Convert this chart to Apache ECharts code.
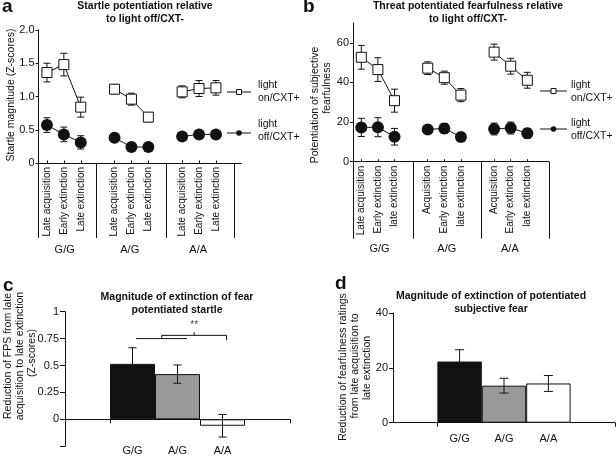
<!DOCTYPE html>
<html><head><meta charset="utf-8">
<script src="https://cdn.jsdelivr.net/npm/echarts@6/dist/echarts.min.js"></script>
<style>html,body{margin:0;padding:0;background:#fff}#c{width:616px;height:456px}</style>
</head><body><div id="c"></div>
<script>
const FONT = 'Liberation Sans, Arial, Helvetica, sans-serif';
const groups = ['G/G', 'A/G', 'A/A'];
const phasesA = ['Late acquisition','Early extinction','Late extinction','Late acquisition','Early extinction','Late extinction','Late acquisition','Early extinction','Late extinction'];
const phasesB = ['Late acquisition','Early extinction','late extinction','Acquisition','Early extinction','late extinction','Acquisition','Early extinction','late extinction'];
const xPos = [0.5, 1.5, 2.5, 4.5, 5.5, 6.5, 8.5, 9.5, 10.5];
const groupPosA = [1.55, 5.4, 9.45];
const groupPosB = [1.6, 5.65, 9.45];
const sepA = [0, 3.4, 7.55, 11.6];
const sepB = [0, 3.6, 7.75, 11.8];

// Panel a: startle potentiation (Z-scores)
const aOn = [1.36, 1.48, 0.84, 1.11, 0.96, 0.69, 1.07, 1.12, 1.13];
const aOnErr = [0.14, 0.17, 0.15, 0.07, 0.09, 0.07, 0.09, 0.12, 0.11];
const aOff = [0.57, 0.43, 0.31, 0.38, 0.24, 0.24, 0.40, 0.43, 0.43];
const aOffErr = [0.11, 0.11, 0.10, 0.03, 0.02, 0.02, 0.06, 0.05, 0.04];
// Panel b: potentiation of subjective fearfulness
const bOn = [52.7, 46.5, 30.8, 47.2, 42.4, 33.6, 55.3, 48.2, 41.1];
const bOnErr = [6.0, 6.0, 5.8, 3.2, 3.3, 3.3, 4.0, 4.0, 4.0];
const bOff = [17.3, 17.4, 12.6, 16.3, 16.8, 12.5, 16.5, 17.0, 14.3];
const bOffErr = [4.6, 4.8, 4.2, 2.0, 2.5, 1.0, 3.0, 3.0, 2.5];
// Panel c / d
const barPos = [1.5, 2.5, 3.5];
const barColors = ['#111111', '#999999', '#ffffff'];
const cVals = [0.515, 0.42, -0.06];
const cErr = [0.15, 0.085, 0.105];
const dVals = [22.3, 13.5, 14.3];
const dErr = [4.3, 2.7, 2.9];
// significance bracket in c (data units)
const brLow = [[1.58, 0.75], [2.71, 0.75]];
const brHigh = [[2.15, 0.75], [2.15, 0.78], [3.59, 0.78], [3.59, 0.735]];
const brTick = [[2.87, 0.78], [2.87, 0.81]];
const brStar = [2.87, 0.81];

const BLACK = '#111';
function lab(list, pos) {
  return function (v) {
    const i = pos.findIndex(p => Math.abs(p - v) < 1e-6);
    return i >= 0 ? list[i] : '';
  };
}
function breakData(vals) {
  const out = [];
  vals.forEach((v, i) => {
    if (i > 0 && i % 3 === 0) out.push([xPos[i] - 1, '-']);
    out.push([xPos[i], v]);
  });
  return out;
}
function lineSer(ai, vals, open) {
  return {
    type: 'line', xAxisIndex: ai === 0 ? 0 : 2, yAxisIndex: ai, z: 3, silent: true,
    data: breakData(vals), connectNulls: false,
    symbol: open ? 'rect' : 'circle', symbolSize: open ? 10 : 12, showSymbol: true,
    lineStyle: { color: BLACK, width: 1 },
    itemStyle: open ? { color: '#fff', borderColor: BLACK, borderWidth: 1 } : { color: BLACK, borderWidth: 0 },
    emphasis: { disabled: true }
  };
}
function errBar(xi, yi, xs, vals, errs, cap, z) {
  return {
    type: 'custom', xAxisIndex: xi, yAxisIndex: yi, z: z, silent: true,
    encode: { x: 0, y: [1, 2] },
    data: vals.map((v, i) => [xs[i], v - errs[i], v + errs[i]]),
    renderItem: function (params, api) {
      const x = api.value(0);
      const lo = api.coord([x, api.value(1)]);
      const hi = api.coord([x, api.value(2)]);
      const h = cap / 2;
      const st = { stroke: BLACK, lineWidth: 1 };
      return { type: 'group', children: [
        { type: 'line', shape: { x1: lo[0], y1: lo[1], x2: hi[0], y2: hi[1] }, style: st },
        { type: 'line', shape: { x1: lo[0] - h, y1: lo[1], x2: lo[0] + h, y2: lo[1] }, style: st },
        { type: 'line', shape: { x1: hi[0] - h, y1: hi[1], x2: hi[0] + h, y2: hi[1] }, style: st }
      ] };
    }
  };
}
const axLine = { show: true, onZero: true, lineStyle: { color: BLACK, width: 1 } };
const lblStyle = { color: BLACK, fontFamily: FONT, fontSize: 10.5 };

function txt(x, y, s, o) {
  return Object.assign({ type: 'text', x: x, y: y, style: Object.assign({ text: s, fill: BLACK, font: '10.5px ' + FONT, align: 'center', verticalAlign: 'middle' }, o || {}) });
}
function rot(x, y, s) {
  const t = txt(x, y, s); t.rotation = Math.PI / 2; return t;
}
function legend(x1, x2, y, open, tx, ty) {
  const mx = (x1 + x2) / 2;
  return [
    { type: 'line', shape: { x1: x1, y1: y, x2: x2, y2: y }, style: { stroke: BLACK, lineWidth: 1 } },
    open ? { type: 'rect', shape: { x: mx - 2.5, y: y - 2.5, width: 5, height: 5 }, style: { fill: '#fff', stroke: BLACK, lineWidth: 1 } }
         : { type: 'circle', shape: { cx: mx, cy: y, r: 2.8 }, style: { fill: BLACK } },
    txt(tx, ty, open ? 'light\non/CXT+' : 'light\noff/CXT+', { align: 'left', lineHeight: 13 })
  ];
}
const bold = { font: 'bold 10.5px ' + FONT, lineHeight: 13 };
const letter = { font: 'bold 19px ' + FONT, align: 'left' };

const option = {
  animation: false,
  textStyle: { fontFamily: FONT },
  grid: [
    { left: 38.5, top: 30, width: 202.8, height: 133, outerBoundsMode: 'none' },
    { left: 353, top: 23, width: 195.9, height: 138.7, outerBoundsMode: 'none' },
    { left: 65, top: 311.7, width: 225, height: 134.5, outerBoundsMode: 'none' },
    { left: 393, top: 313, width: 222, height: 109.7, outerBoundsMode: 'none' }
  ],
  xAxis: [
    // a: labels + small inner ticks
    { gridIndex: 0, type: 'value', min: 0, max: 12, axisLine: axLine, splitLine: { show: false },
      axisTick: { show: true, inside: true, length: 2.5, customValues: xPos, lineStyle: { color: BLACK } },
      axisLabel: { customValues: xPos, formatter: lab(phasesA, xPos), rotate: 90, margin: 4, fontSize: 10, color: BLACK, fontFamily: FONT } },
    // a: separators + group labels
    { gridIndex: 0, type: 'value', min: 0, max: 12, position: 'bottom', axisLine: { show: false }, splitLine: { show: false },
      axisTick: { show: true, inside: false, length: 75, customValues: sepA, lineStyle: { color: BLACK } },
      axisLabel: Object.assign({}, lblStyle, { fontSize: 11, customValues: groupPosA, formatter: lab(groups, groupPosA), margin: 81 }) },
    // b
    { gridIndex: 1, type: 'value', min: 0, max: 11.8, axisLine: axLine, splitLine: { show: false },
      axisTick: { show: true, inside: true, length: 2.5, customValues: xPos, lineStyle: { color: BLACK } },
      axisLabel: { customValues: xPos, formatter: lab(phasesB, xPos), rotate: 90, margin: 4, fontSize: 10, color: BLACK, fontFamily: FONT } },
    { gridIndex: 1, type: 'value', min: 0, max: 11.8, position: 'bottom', axisLine: { show: false }, splitLine: { show: false },
      axisTick: { show: true, inside: false, length: 77, customValues: sepB, lineStyle: { color: BLACK } },
      axisLabel: Object.assign({}, lblStyle, { fontSize: 11, customValues: groupPosB, formatter: lab(groups, groupPosB), margin: 82 }) },
    // c: axis line at zero with ticks
    { gridIndex: 2, type: 'value', min: 0, max: 5, axisLine: axLine, splitLine: { show: false },
      axisTick: { show: true, inside: false, length: 4, customValues: [1, 5], lineStyle: { color: BLACK } },
      axisLabel: { show: false } },
    // d
    { gridIndex: 3, type: 'value', min: 0, max: 5, axisLine: axLine, splitLine: { show: false },
      axisTick: { show: true, inside: false, length: 4, customValues: [1, 5], lineStyle: { color: BLACK } },
      axisLabel: Object.assign({}, lblStyle, { fontSize: 11, customValues: barPos, formatter: lab(groups, barPos), margin: 11 }) },
    // c: category labels at bottom of plot
    { gridIndex: 2, type: 'value', min: 0, max: 5, position: 'bottom', axisLine: { show: false, onZero: false }, splitLine: { show: false },
      axisTick: { show: false },
      axisLabel: Object.assign({}, lblStyle, { fontSize: 11, customValues: barPos, formatter: lab(groups, barPos), margin: -1 }) }
  ],
  yAxis: [
    { gridIndex: 0, type: 'value', min: 0, max: 2, interval: 0.5, axisLine: axLine, splitLine: { show: false },
      axisTick: { show: true, length: 3, lineStyle: { color: BLACK } },
      axisLabel: Object.assign({}, lblStyle, { fontSize: 11, margin: 4, formatter: v => v === 0 ? '0' : v.toFixed(1) }) },
    { gridIndex: 1, type: 'value', min: 0, max: 70, axisLine: axLine, splitLine: { show: false },
      axisTick: { show: true, length: 3, customValues: [0, 20, 40, 60], lineStyle: { color: BLACK } },
      axisLabel: Object.assign({}, lblStyle, { fontSize: 11, margin: 4, customValues: [0, 20, 40, 60] }) },
    { gridIndex: 2, type: 'value', min: -0.25, max: 1, axisLine: axLine, splitLine: { show: false },
      axisTick: { show: true, length: 5, customValues: [-0.25, 0, 0.25, 0.5, 0.75, 1], lineStyle: { color: BLACK } },
      axisLabel: Object.assign({}, lblStyle, { fontSize: 11, margin: 6, customValues: [0, 0.25, 0.5, 0.75, 1] }) },
    { gridIndex: 3, type: 'value', min: 0, max: 40, interval: 20, axisLine: axLine, splitLine: { show: false },
      axisTick: { show: true, length: 4, lineStyle: { color: BLACK } },
      axisLabel: Object.assign({}, lblStyle, { fontSize: 11, margin: 5 }) }
  ],
  series: [
    errBar(0, 0, xPos, aOn, aOnErr, 7, 1),
    errBar(0, 0, xPos, aOff, aOffErr, 7, 1),
    lineSer(0, aOn, true),
    lineSer(0, aOff, false),
    errBar(2, 1, xPos, bOn, bOnErr, 7, 1),
    errBar(2, 1, xPos, bOff, bOffErr, 7, 1),
    lineSer(1, bOn, true),
    lineSer(1, bOff, false),
    { type: 'bar', xAxisIndex: 4, yAxisIndex: 2, barWidth: 45, silent: true, z: 2,
      itemStyle: { borderColor: BLACK, borderWidth: 1 },
      data: cVals.map((v, i) => ({ value: [barPos[i], v], itemStyle: { color: barColors[i], borderColor: BLACK, borderWidth: 1 } })) },
    errBar(4, 2, barPos, cVals, cErr, 8, 3),
    { type: 'line', xAxisIndex: 4, yAxisIndex: 2, data: brLow, symbol: 'none', silent: true, lineStyle: { color: BLACK, width: 1 } },
    { type: 'line', xAxisIndex: 4, yAxisIndex: 2, data: brHigh, symbol: 'none', silent: true, lineStyle: { color: BLACK, width: 1 } },
    { type: 'line', xAxisIndex: 4, yAxisIndex: 2, data: brTick, symbol: 'none', silent: true, lineStyle: { color: BLACK, width: 1 } },
    { type: 'scatter', xAxisIndex: 4, yAxisIndex: 2, data: [brStar], symbolSize: 1, silent: true,
      itemStyle: { color: 'rgba(0,0,0,0)' },
      label: { show: true, position: 'top', distance: 1, formatter: '**', color: BLACK, fontSize: 10, fontFamily: FONT } },
    { type: 'bar', xAxisIndex: 5, yAxisIndex: 3, barWidth: 44.4, silent: true, z: 2,
      itemStyle: { borderColor: BLACK, borderWidth: 1 },
      data: dVals.map((v, i) => ({ value: [barPos[i], v], itemStyle: { color: barColors[i], borderColor: BLACK, borderWidth: 1 } })) },
    errBar(5, 3, barPos, dVals, dErr, 9, 3)
  ],
  graphic: [
    txt(2, 7, 'a', letter),
    txt(303, 7, 'b', letter),
    txt(3, 286, 'c', letter),
    txt(335, 284, 'd', letter),
    txt(145, 12.2, 'Startle potentiation relative\nto light off/CXT-', bold),
    txt(468, 12.5, 'Threat potentiated fearfulness relative\nto light off/CXT-', bold),
    txt(177, 303.5, 'Magnitude of extinction of fear\npotentiated startle', bold),
    txt(491, 303, 'Magnitude of extinction of potentiated\nsubjective fear', bold),
    rot(11, 95, 'Startle magnitude (Z-scores)'),
    rot(315, 105, 'Potentiation of subjective'),
    rot(327, 88, 'fearfulness'),
    rot(8, 356, 'Reduction of FPS from late'),
    rot(20, 356, 'acquisition to late extinction'),
    rot(32, 353, '(Z-scores)'),
    rot(343, 367, 'Reduction of fearfulness ratings'),
    rot(355, 366, 'from late acquisition to'),
    rot(367, 368, 'late extinction')
  ].concat(
    legend(227, 251, 92, true, 258, 92),
    legend(227, 251, 133, false, 258, 131),
    legend(540, 567, 91, true, 571, 91.5),
    legend(540, 567, 129, false, 571, 129.5)
  )
};
const chart = echarts.init(document.getElementById('c'), null, { renderer: 'canvas' });
chart.setOption(option);
</script></body></html>
